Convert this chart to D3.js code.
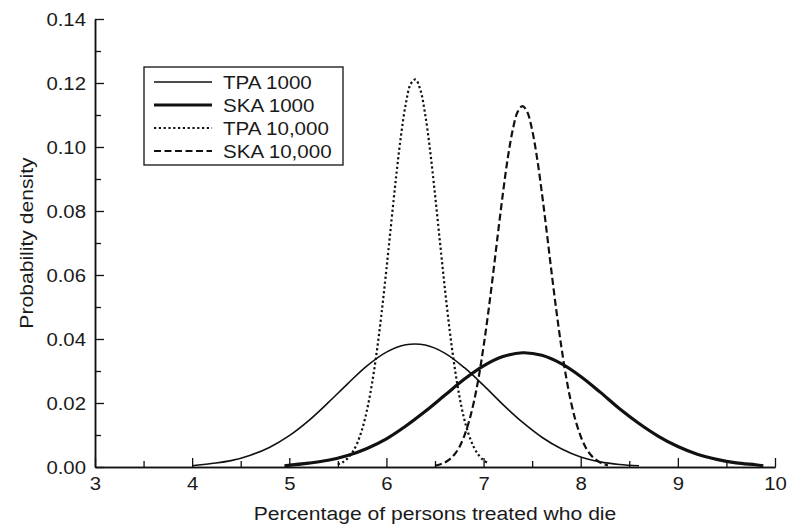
<!DOCTYPE html>
<html>
<head>
<meta charset="utf-8">
<script src="https://cdn.jsdelivr.net/npm/d3@7"></script>
<style>
  html, body { margin: 0; padding: 0; background: #fff; }
  svg text { font-family: "Liberation Sans", Arial, Helvetica, sans-serif; fill: #1a1a1a; }
</style>
</head>
<body>
<svg id="chart" width="789" height="524"></svg>
<script>
// Mortality percentage vs. probability density, four sample-size scenarios
const tpa1000 = [[4.0,0.0004],[4.2,0.0011],[4.4,0.0020],[4.6,0.0037],[4.8,0.0062],[5.0,0.0098],[5.2,0.0145],
  [5.4,0.0201],[5.6,0.0260],[5.8,0.0316],[6.0,0.0359],[6.2,0.0382],[6.4,0.0381],[6.6,0.0356],[6.8,0.0311],
  [7.0,0.0255],[7.2,0.0195],[7.4,0.0140],[7.6,0.0093],[7.8,0.0057],[8.0,0.0031],[8.2,0.0016],[8.4,0.0008],[8.6,0.0004]];

const ska1000 = [[4.95,0.0004],[5.2,0.0012],[5.4,0.0021],[5.6,0.0036],[5.8,0.0058],[6.0,0.0088],[6.2,0.0128],
  [6.4,0.0174],[6.6,0.0224],[6.8,0.0274],[7.0,0.0316],[7.2,0.0345],[7.4,0.0357],[7.6,0.0349],[7.8,0.0323],
  [8.0,0.0283],[8.2,0.0234],[8.4,0.0182],[8.6,0.0136],[8.8,0.0096],[9.0,0.0064],[9.2,0.0040],[9.4,0.0024],
  [9.6,0.0013],[9.8,0.0007],[9.88,0.0004]];

const tpa10000 = [[5.50,0.0008],[5.55,0.0015],[5.60,0.0027],[5.65,0.0046],[5.70,0.0075],[5.75,0.0118],
  [5.80,0.0178],[5.85,0.0258],[5.90,0.0359],[5.95,0.0481],[6.00,0.0618],[6.05,0.0764],[6.10,0.0908],
  [6.15,0.1036],[6.20,0.1136],[6.25,0.1197],[6.30,0.1211],[6.35,0.1178],[6.40,0.1100],[6.45,0.0988],
  [6.50,0.0852],[6.55,0.0706],[6.60,0.0562],[6.65,0.0430],[6.70,0.0316],[6.75,0.0223],[6.80,0.0151],
  [6.85,0.0099],[6.90,0.0062],[6.95,0.0037],[7.00,0.0021],[7.04,0.0013]];

const ska10000 = [[6.50,0.0004],[6.55,0.0008],[6.60,0.0014],[6.65,0.0024],[6.70,0.0039],[6.75,0.0062],
  [6.80,0.0096],[6.85,0.0142],[6.90,0.0203],[6.95,0.0281],[7.00,0.0377],[7.05,0.0487],[7.10,0.0608],
  [7.15,0.0735],[7.20,0.0857],[7.25,0.0967],[7.30,0.1053],[7.35,0.1109],[7.40,0.1128],[7.45,0.1109],
  [7.50,0.1053],[7.55,0.0967],[7.60,0.0857],[7.65,0.0735],[7.70,0.0608],[7.75,0.0487],[7.80,0.0377],
  [7.85,0.0281],[7.90,0.0203],[7.95,0.0142],[8.00,0.0096],[8.05,0.0062],[8.10,0.0039],[8.15,0.0024],
  [8.20,0.0014],[8.25,0.0008],[8.28,0.0005]];

const seriesNames = ["TPA 1000", "SKA 1000", "TPA 10,000", "SKA 10,000"];
const xMajorTicks = [3, 4, 5, 6, 7, 8, 9, 10];
const xMinorTicks = [3.5, 4.5, 5.5, 6.5, 7.5, 8.5, 9.5];
const yMajorTicks = [0, 0.02, 0.04, 0.06, 0.08, 0.10, 0.12, 0.14];
const yMinorTicks = [0.01, 0.03, 0.05, 0.07, 0.09, 0.11, 0.13];
const xTitle = "Percentage of persons treated who die";
const yTitle = "Probability density";

const svg = d3.select("#chart");
const ink = "#111";
const stretch = 1.1; // widen glyphs horizontally

const x = d3.scaleLinear().domain([3, 10]).range([95, 775]);
const y = d3.scaleLinear().domain([0, 0.14]).range([467, 19]);

// Line styles per series
const styles = [
  { width: 1.6, dash: null },
  { width: 3.2, dash: null },
  { width: 2.2, dash: "2.2,2.6" },
  { width: 2.2, dash: "7,3.5" }
];
const data = [tpa1000, ska1000, tpa10000, ska10000];

// Axes: ticks point inward; minor and major ticks in separate groups
const xAt = `translate(0,${y(0)})`;
const yAt = `translate(${x(3)},0)`;
svg.append("g").attr("class", "ax").attr("transform", xAt)
  .call(d3.axisBottom(x).tickValues(xMinorTicks).tickSizeInner(-6).tickSizeOuter(0).tickFormat(() => ""));
const gx = svg.append("g").attr("class", "ax").attr("transform", xAt)
  .call(d3.axisBottom(x).tickValues(xMajorTicks).tickSizeInner(-9).tickSizeOuter(0).tickFormat(d3.format("d")));
svg.append("g").attr("class", "ax").attr("transform", yAt)
  .call(d3.axisLeft(y).tickValues(yMinorTicks).tickSizeInner(-6).tickSizeOuter(0).tickFormat(() => ""));
const gy = svg.append("g").attr("class", "ax").attr("transform", yAt)
  .call(d3.axisLeft(y).tickValues(yMajorTicks).tickSizeInner(-9).tickSizeOuter(0)
    .tickPadding(9 / stretch).tickFormat(d3.format(".2f")));

svg.selectAll(".ax .domain").attr("stroke", ink).attr("stroke-width", 1.5);
svg.selectAll(".ax .tick line").attr("stroke", ink).attr("stroke-width", 1.3);
svg.selectAll(".ax .tick text").attr("fill", "#1a1a1a").style("font-size", "18.5px")
  .attr("transform", `scale(${stretch},1)`);
gx.selectAll(".tick text").attr("y", 23).attr("dy", 0);
gy.selectAll(".tick text").attr("dy", "0.36em");

// Curves
const line = d3.line().x(d => x(d[0])).y(d => y(d[1])).curve(d3.curveCatmullRom);
data.forEach((s, i) => {
  svg.append("path")
    .datum(s)
    .attr("d", line)
    .attr("fill", "none")
    .attr("stroke", ink)
    .attr("stroke-width", styles[i].width)
    .attr("stroke-dasharray", styles[i].dash)
    .attr("stroke-linejoin", "round");
});

// Legend
const lg = svg.append("g");
lg.append("rect").attr("x", 144).attr("y", 67).attr("width", 199).attr("height", 98)
  .attr("fill", "#fff").attr("stroke", ink).attr("stroke-width", 1.3);
seriesNames.forEach((name, i) => {
  const ry = 82 + i * 23;
  lg.append("line").attr("x1", 154).attr("x2", 212).attr("y1", ry).attr("y2", ry)
    .attr("stroke", ink).attr("stroke-width", styles[i].width)
    .attr("stroke-dasharray", styles[i].dash);
  lg.append("text").attr("transform", `translate(223,${ry + 6.6}) scale(${stretch},1)`)
    .style("font-size", "18.7px").text(name);
});

// Axis titles
svg.append("text")
  .attr("transform", `translate(${(x(3) + x(10)) / 2},520) scale(${stretch},1)`)
  .attr("text-anchor", "middle").style("font-size", "19.2px").text(xTitle);
svg.append("text")
  .attr("transform", `translate(33,${(y(0) + y(0.14)) / 2}) rotate(-90) scale(${stretch},1)`)
  .attr("text-anchor", "middle").style("font-size", "19.2px").text(yTitle);
</script>
</body>
</html>
